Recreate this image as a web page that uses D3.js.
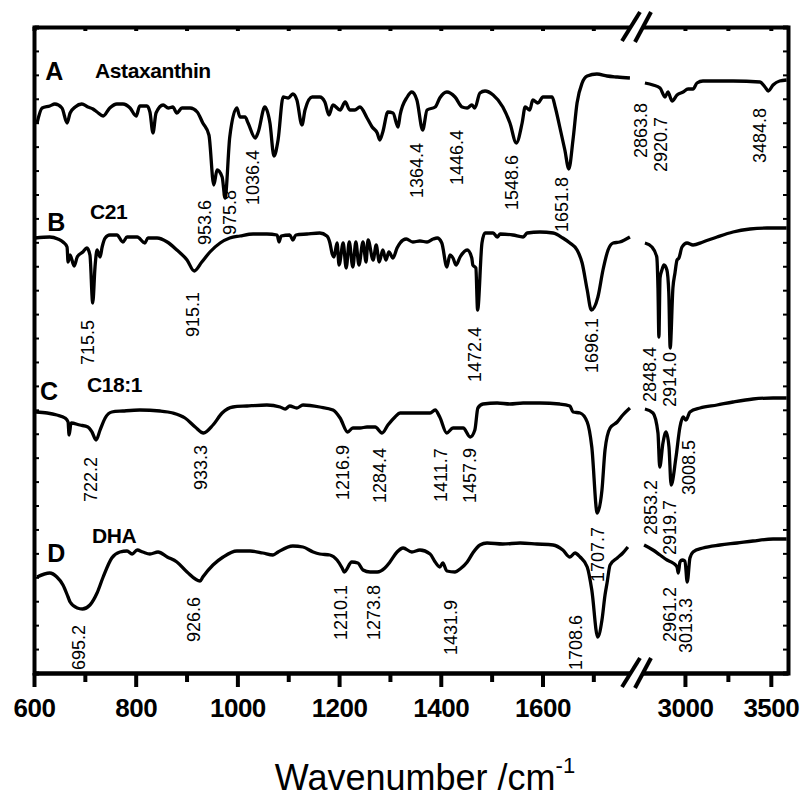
<!DOCTYPE html>
<html>
<head>
<meta charset="utf-8">
<script src="https://cdn.jsdelivr.net/npm/d3@7/dist/d3.min.js"></script>
<style>
  body { margin: 0; background: #fff; }
  text { font-family: "Liberation Sans", Arial, sans-serif; fill: #000; }
</style>
</head>
<body>
<div id="chart"></div>
<script>
// tick values for the two parts of the broken x axis
var lowTicks = [600, 800, 1000, 1200, 1400, 1600];
var lowMinor = [700, 900, 1100, 1300, 1500, 1700];
var highTicks = [3000, 3500];
var highMinor = [3250];

// spectra: [wavenumber, stacked transmittance], low part (600-1780) and high part (2750-3600)
var astaxLow = [[606,55.0],[616,56.5],[631,56.7],[641,56.9],[655,56.5],[665,55.0],[671,56.0],[681,56.6],[694,56.9],[706,56.6],[716,56.4],[724,56.1],[736,55.7],[749,56.5],[763,56.9],[775,56.9],[789,56.5],[801,55.7],[808,56.7],[822,56.7],[828,56.1],[834,54.0],[840,56.0],[854,56.8],[864,56.5],[873,56.6],[881,56.0],[891,56.5],[907,56.5],[921,56.1],[932,55.0],[944,53.8],[953.6,48.8],[960,50.3],[970,49.6],[975.8,47.5],[985,53.6],[999,56.5],[1005,55.6],[1015,55.6],[1021,55.0],[1035,53.5],[1041,54.1],[1054,56.6],[1064,55.0],[1072,51.7],[1080,53.3],[1090,57.6],[1100,57.5],[1109,57.9],[1117,57.3],[1127,54.8],[1133,56.3],[1147,57.6],[1162,57.6],[1172,57.1],[1180,55.8],[1188,56.8],[1202,56.3],[1212,57.1],[1221,56.3],[1231,56.3],[1241,56.6],[1255,55.5],[1265,54.6],[1275,54.0],[1280,53.3],[1286,54.1],[1296,56.1],[1306,56.0],[1316,54.6],[1320,55.8],[1334,57.6],[1343,58.1],[1353,57.3],[1364.4,54.3],[1373,56.3],[1389,56.6],[1398,57.5],[1412,58.1],[1428,57.6],[1442,56.6],[1452,56.5],[1461,56.8],[1467,56.5],[1477,58.0],[1487,58.2],[1503,57.8],[1522,56.6],[1536,55.0],[1548.6,53.0],[1560,55.0],[1566,56.6],[1575,56.3],[1581,57.3],[1591,57.0],[1601,57.6],[1619,57.6],[1625,56.6],[1634,54.6],[1644,52.3],[1651.8,50.4],[1660,53.3],[1668,57.0],[1678,59.0],[1688,59.7],[1707,59.9],[1727,59.7],[1747,59.6],[1772,59.5]];
var astaxHigh = [[2767,59.0],[2814,58.8],[2855,58.5],[2884,57.6],[2901,58.1],[2925,57.2],[2954,57.8],[2989,58.1],[3018,58.4],[3047,58.4],[3070,59.0],[3105,59.2],[3280,59.2],[3437,59.1],[3466,58.6],[3485,58.2],[3513,58.8],[3551,59.2],[3592,59.3]];

var c21Low = [[602,43.5],[631,43.6],[647,43.4],[657,43.1],[665,42.6],[667,41.1],[671,41.8],[679,40.7],[685,41.6],[696,42.1],[704,42.5],[710,41.8],[715.5,37.0],[720,40.6],[724,42.3],[730,41.6],[734,42.6],[740,43.5],[749,43.8],[763,43.8],[775,43.1],[783,43.6],[803,43.6],[818,43.0],[824,43.5],[842,43.5],[862,43.1],[881,42.3],[901,41.3],[915.1,40.2],[930,41.1],[946,42.1],[966,43.0],[985,43.5],[1005,43.7],[1031,43.9],[1058,43.9],[1078,43.8],[1082,43.1],[1086,43.7],[1103,43.8],[1109,43.3],[1115,43.8],[1137,43.9],[1162,44.0],[1176,43.7],[1182,43.0],[1186,42.0],[1190,41.6],[1196,43.0],[1200,40.8],[1208,43.0],[1214,40.5],[1220,43.1],[1227,40.6],[1233,43.1],[1239,40.8],[1247,43.1],[1253,41.1],[1257,43.3],[1267,41.3],[1273,42.8],[1279,41.1],[1286,42.3],[1292,41.3],[1298,42.1],[1306,41.5],[1314,42.5],[1320,43.0],[1332,43.4],[1345,43.1],[1359,43.2],[1373,43.1],[1385,43.4],[1393,43.5],[1402,43.0],[1412,40.6],[1418,41.8],[1424,41.5],[1430,40.8],[1438,41.6],[1452,42.3],[1461,41.5],[1463,40.8],[1469,40.5],[1472.4,36.3],[1481,43.0],[1487,44.0],[1503,44.0],[1511,43.6],[1517,43.9],[1542,43.8],[1562,43.6],[1570,44.0],[1595,44.1],[1621,44.0],[1640,43.5],[1654,43.0],[1668,42.3],[1678,41.0],[1688,38.3],[1696.1,36.3],[1709,37.6],[1719,40.3],[1729,42.3],[1739,43.0],[1752,43.1],[1772,43.6]];
var c21High = [[2767,43.0],[2808,42.6],[2836,41.6],[2843,38.5],[2848.4,33.6],[2855,39.5],[2866,40.3],[2878,40.8],[2895,40.3],[2906,38.0],[2914,32.5],[2930,38.5],[2942,40.0],[2954,41.3],[2965,41.5],[2983,42.6],[3012,43.0],[3047,42.8],[3105,43.1],[3187,43.6],[3280,44.1],[3379,44.4],[3478,44.5],[3592,44.5]];

var c181Low = [[604,26.1],[626,26.0],[645,25.8],[661,25.5],[667,25.1],[669,23.8],[673,25.0],[690,24.8],[706,24.6],[714,24.1],[722.2,23.3],[730,24.3],[740,25.5],[753,26.1],[775,26.2],[808,26.3],[848,26.2],[873,26.0],[897,25.5],[917,24.6],[933.3,24.0],[952,24.8],[970,26.0],[991,26.6],[1019,26.7],[1058,26.8],[1084,26.6],[1094,26.4],[1103,26.7],[1117,26.5],[1129,26.8],[1162,26.6],[1188,26.3],[1202,25.5],[1216.9,24.1],[1227,24.5],[1241,24.5],[1255,24.6],[1271,24.6],[1284.4,24.0],[1296,24.8],[1310,25.6],[1320,26.0],[1339,26.0],[1359,26.0],[1379,26.0],[1389,26.3],[1398,25.6],[1411.7,24.0],[1424,24.5],[1444,24.5],[1457.9,23.6],[1467,24.3],[1473,26.5],[1483,26.9],[1511,27.0],[1536,26.9],[1562,27.0],[1595,27.0],[1634,26.9],[1654,26.7],[1660,26.1],[1674,26.0],[1688,25.1],[1697,22.6],[1707.7,16.0],[1717,18.3],[1723,22.3],[1733,24.5],[1747,25.1],[1758,25.8],[1772,26.5]];
var c181High = [[2767,26.4],[2814,26.0],[2843,24.0],[2853.2,20.6],[2872,23.0],[2890,24.1],[2907,22.6],[2919.7,18.8],[2948,21.6],[2971,24.6],[2989,25.6],[3006,25.3],[3029,26.1],[3088,26.5],[3187,26.8],[3280,27.1],[3396,27.4],[3513,27.5],[3592,27.5]];

var dhaLow = [[606,9.6],[631,10.0],[645,9.6],[657,8.8],[667,7.6],[671,7.1],[685,6.5],[695.2,6.4],[710,6.8],[724,8.0],[736,9.6],[753,11.5],[769,12.1],[783,12.2],[793,11.9],[803,12.3],[814,12.1],[828,11.9],[844,12.1],[862,11.6],[881,11.1],[901,10.1],[926.6,9.2],[932,9.6],[952,10.8],[972,11.6],[999,12.2],[1025,12.2],[1050,12.0],[1070,11.8],[1080,12.1],[1109,12.7],[1129,12.6],[1149,12.1],[1162,11.9],[1182,11.8],[1196,11.3],[1206,10.5],[1210.1,10.1],[1225,11.1],[1237,11.0],[1247,10.3],[1261,10.1],[1275,10.1],[1290,10.5],[1300,11.1],[1314,12.1],[1326,12.5],[1343,12.1],[1359,12.3],[1379,11.9],[1389,11.1],[1398,10.6],[1404,11.0],[1412,10.2],[1428,10.1],[1438,10.4],[1452,11.1],[1463,12.0],[1477,12.8],[1491,13.0],[1522,12.9],[1556,13.0],[1589,12.9],[1621,12.8],[1640,12.3],[1654,11.6],[1664,12.0],[1674,11.6],[1688,10.6],[1697,8.3],[1708.6,3.6],[1717,5.3],[1723,7.8],[1727,9.0],[1733,10.8],[1747,11.5],[1758,12.0],[1768,12.6]];
var dhaHigh = [[2762,12.8],[2814,12.3],[2855,11.8],[2896,11.3],[2930,11.0],[2954,10.6],[2961.2,10.0],[2971,11.1],[2983,11.3],[3000,11.2],[3013.3,9.1],[3029,11.5],[3047,12.1],[3105,12.5],[3204,12.8],[3303,13.0],[3396,13.2],[3513,13.4],[3592,13.4]];

// peak labels: [text, wavenumber, value at the start of the rotated text]
var peaksA = [["953.6",936,42.8],["975.8",985,43.8],["1036.4",1029,46.8],["1364.4",1353,47.5],["1446.4",1430,48.8],["1548.6",1540,46.3],["1651.8",1638,44.1],["2863.8",2744,51.5],["2920.7",2855,50.1],["3484.8",3437,51.0]];
var peaksB = [["715.5",706,30.8],["915.1",911,33.6],["1472.4",1467,29.1],["1696.1",1697,30.0],["2848.4",2791,27.1],["2914.0",2913,26.6]];
var peaksC = [["722.2",712,17.1],["933.3",928,18.3],["1216.9",1206,17.3],["1284.4",1279,17.0],["1411.7",1400,17.1],["1457.9",1457,17.0],["1707.7",1709,9.1],["2853.2",2802,13.8],["2919.7",2913,11.8],["3008.5",3018,17.8]];
var peaksD = [["695.2",687,0.3],["926.6",913,3.1],["1210.1",1202,3.3],["1273.8",1267,3.3],["1431.9",1420,1.8],["1708.6",1664,0.3],["2961.2",2913,3.1],["3013.3",3006,2.0]];

// panel letters and sample names: [text, wavenumber, value]
var panelLetters = [["A",622,59.3],["B",626,44.2],["C",612,27.3],["D",626,11.1]];
var sampleNames = [["Astaxanthin",720,59.5],["C21",710,45.4],["C18:1",704,28.1],["DHA",714,13.0]];

var svgWidth = 806;
var svgHeight = 798;

var margin = {
  top: 27,
  right: 18,
  bottom: 125,
  left: 34
};

var width = svgWidth - margin.left - margin.right;
var height = svgHeight - margin.top - margin.bottom;

var svg = d3.select("#chart")
  .append("svg")
  .attr("width", svgWidth)
  .attr("height", svgHeight);

var chartGroup = svg.append("g")
  .attr("transform", `translate(${margin.left}, ${margin.top})`);

// scales: two x pieces around the break
var xLow = d3.scaleLinear().domain([600, 1780]).range([0, 600]);
var xHigh = d3.scaleLinear().domain([2750, 3600]).range([608, width]);
var yScale = d3.scaleLinear().domain([0, 64.6]).range([height, 0]);
var breakX = 604;

function xOf(w) {
  return w > 2000 ? xHigh(w) : xLow(w);
}

// spectra
var lineLow = d3.line()
  .x(d => xLow(d[0]))
  .y(d => yScale(d[1]))
  .curve(d3.curveMonotoneX);

var lineHigh = d3.line()
  .x(d => xHigh(d[0]))
  .y(d => yScale(d[1]))
  .curve(d3.curveMonotoneX);

var spectra = [[astaxLow, astaxHigh], [c21Low, c21High], [c181Low, c181High], [dhaLow, dhaHigh]];

spectra.forEach(function(s) {
  chartGroup.append("path")
    .datum(s[0])
    .attr("d", lineLow)
    .attr("fill", "none")
    .attr("stroke", "#000")
    .attr("stroke-width", 3.3)
    .attr("stroke-linejoin", "round");
  chartGroup.append("path")
    .datum(s[1])
    .attr("d", lineHigh)
    .attr("fill", "none")
    .attr("stroke", "#000")
    .attr("stroke-width", 3.3)
    .attr("stroke-linejoin", "round");
});

// peak labels, rotated
var allPeaks = peaksA.concat(peaksB, peaksC, peaksD);
chartGroup.selectAll(".peak")
  .data(allPeaks)
  .enter()
  .append("text")
  .attr("class", "peak")
  .attr("transform", d => `translate(${xOf(d[1])}, ${yScale(d[2])}) rotate(-90)`)
  .attr("dy", "0.36em")
  .attr("font-size", "18px")
  .text(d => d[0]);

chartGroup.selectAll(".letter")
  .data(panelLetters)
  .enter()
  .append("text")
  .attr("class", "letter")
  .attr("x", d => xLow(d[1]))
  .attr("y", d => yScale(d[2]))
  .attr("font-size", "25px")
  .attr("font-weight", "bold")
  .text(d => d[0]);

chartGroup.selectAll(".sample")
  .data(sampleNames)
  .enter()
  .append("text")
  .attr("class", "sample")
  .attr("x", d => xLow(d[1]))
  .attr("y", d => yScale(d[2]))
  .attr("font-size", "21px")
  .attr("font-weight", "bold")
  .attr("letter-spacing", "-0.4px")
  .text(d => d[0]);

// y ticks (no labels) on both sides, pointing in
var yTickVals = d3.range(0, 28).map(i => i * 64.6 / 27);

chartGroup.append("g")
  .attr("class", "yaxis")
  .call(d3.axisLeft(yScale).tickValues(yTickVals).tickSize(-5).tickFormat(""));

chartGroup.append("g")
  .attr("class", "yaxis")
  .attr("transform", `translate(${width}, 0)`)
  .call(d3.axisRight(yScale).tickValues(yTickVals).tickSize(-5).tickFormat(""));

chartGroup.selectAll(".yaxis path").attr("stroke-width", 4).attr("stroke", "#000");
chartGroup.selectAll(".yaxis line").attr("stroke-width", 2).attr("stroke", "#000");

// x axes: bottom major + minor, top inward ticks
function drawX(scale, major, minor) {
  chartGroup.append("g")
    .attr("class", "xaxis")
    .attr("transform", `translate(0, ${height})`)
    .call(d3.axisBottom(scale).tickValues(minor).tickSize(9).tickSizeOuter(0).tickFormat(""));

  var g = chartGroup.append("g")
    .attr("class", "xaxis")
    .attr("transform", `translate(0, ${height})`)
    .call(d3.axisBottom(scale).tickValues(major).tickSize(14).tickSizeOuter(0).tickPadding(12).tickFormat(d3.format("d")));
  g.selectAll("text")
    .attr("font-size", "26px")
    .attr("font-weight", "bold")
    .attr("letter-spacing", "-0.5px")
    .attr("font-family", "'Liberation Sans', Arial, sans-serif")
    .attr("fill", "#000");

  chartGroup.append("g")
    .attr("class", "xaxis")
    .call(d3.axisTop(scale).tickValues(major.concat(minor)).tickSize(-4).tickSizeOuter(0).tickFormat(""));
}

drawX(xLow, lowTicks, lowMinor);
drawX(xHigh, highTicks, highMinor);

chartGroup.selectAll(".xaxis path").attr("stroke-width", 4).attr("stroke", "#000");
chartGroup.selectAll(".xaxis line").attr("stroke-width", 4).attr("stroke", "#000");
chartGroup.selectAll(".xaxis .tick line")
  .filter(function() { return +d3.select(this).attr("y2") < 0; })
  .attr("stroke-width", 2);

// axis break marks "//" on top and bottom
[0, height].forEach(function(yy) {
  chartGroup.append("polygon")
    .attr("points", [[breakX - 16, yy + 14], [breakX + 2, yy - 15], [breakX + 13, yy - 15], [breakX - 3, yy + 15]].join(" "))
    .attr("fill", "#fff");
  chartGroup.append("line")
    .attr("x1", breakX - 16).attr("y1", yy + 14)
    .attr("x2", breakX + 2).attr("y2", yy - 15)
    .attr("stroke", "#000").attr("stroke-width", 4);
  chartGroup.append("line")
    .attr("x1", breakX - 3).attr("y1", yy + 15)
    .attr("x2", breakX + 13).attr("y2", yy - 15)
    .attr("stroke", "#000").attr("stroke-width", 4);
});

// axis title
var title = chartGroup.append("text")
  .attr("x", width / 2 + 14)
  .attr("y", height + 117)
  .attr("text-anchor", "middle")
  .attr("font-size", "36px")
  .text("Wavenumber /cm");

title.append("tspan")
  .attr("dy", -17)
  .attr("font-size", "22px")
  .text("-1");
</script>
</body>
</html>
